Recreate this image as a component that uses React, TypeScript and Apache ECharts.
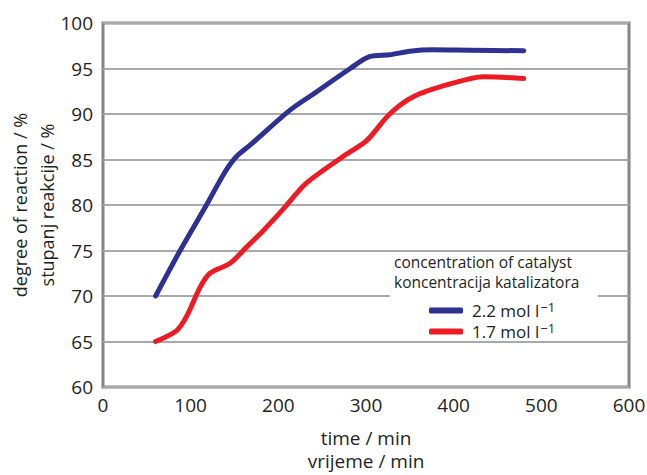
import React, { useEffect, useRef } from "react";
import * as echarts from "echarts";

const xTicks = [0, 100, 200, 300, 400, 500, 600];
const yTicks = [60, 65, 70, 75, 80, 85, 90, 95, 100];

const blueTime = [60, 88, 118, 139, 152, 168, 213, 240, 282, 304, 327, 350, 376, 420, 480];
const blueValue = [70, 75, 80, 83.6, 85.3, 86.6, 90.4, 92.2, 95.0, 96.3, 96.5, 96.9, 97.05, 97.0, 96.95];

const redTime = [60, 84, 95, 111, 122, 145, 164, 183, 206, 232, 278, 301, 327, 354, 396, 434, 480];
const redValue = [65, 66.2, 67.7, 71.0, 72.5, 73.6, 75.4, 77.2, 79.6, 82.4, 85.6, 87.1, 90.0, 91.9, 93.3, 94.1, 93.9];

const seriesNames = ["2.2 mol l", "1.7 mol l"];
const legendTitle = ["concentration of catalyst", "koncentracija katalizatora"];
const yTitle = "degree of reaction / %\nstupanj reakcije / %";
const xTitle = "time / min\nvrijeme / min";

const FONT = "Open Sans";

export default function App() {
  const ref = useRef<HTMLDivElement>(null);
  useEffect(() => {
    if (!ref.current) return;
    const chart = echarts.init(ref.current, null, { renderer: "svg" });
    const toPairs = (xs: number[], ys: number[]) => xs.map((x, i) => [x, ys[i]]);
    chart.setOption({
      animation: false,
      textStyle: { fontFamily: FONT },
      grid: {
        left: 103,
        right: 18,
        top: 23,
        bottom: 88,
        show: true,
        borderColor: "#858585",
        borderWidth: 3,
        backgroundColor: "transparent",
        outerBoundsMode: "none",
        containLabel: false,
      },
      xAxis: {
        type: "value",
        min: xTicks[0],
        max: xTicks[xTicks.length - 1],
        interval: 100,
        axisLine: { show: false },
        axisTick: { show: false },
        splitLine: { show: false },
        axisLabel: { fontSize: 19, color: "#231f20", margin: 8, fontFamily: FONT },
        name: xTitle,
        nameLocation: "middle",
        nameGap: 39,
        nameTextStyle: { fontSize: 19, color: "#231f20", lineHeight: 23.5, fontFamily: FONT },
      },
      yAxis: {
        type: "value",
        min: yTicks[0],
        max: yTicks[yTicks.length - 1],
        interval: 5,
        axisLine: { show: false },
        axisTick: { show: false },
        splitLine: { show: true, lineStyle: { color: "#a7a9ac", width: 2 } },
        axisLabel: { fontSize: 19, color: "#231f20", margin: 10, fontFamily: FONT },
      },
      legend: {
        show: true,
        orient: "vertical",
        left: 424,
        top: 295,
        itemWidth: 34,
        itemHeight: 6,
        itemGap: 2,
        icon: "roundRect",
        z: 8,
        data: seriesNames,
        formatter: (name: string) => `{a|${name}}{s|−1}`,
        textStyle: {
          color: "#231f20",
          fontFamily: FONT,
          fontSize: 17,
          padding: [0, 0, 0, 4],
          rich: {
            a: { fontSize: 17, color: "#231f20", fontFamily: FONT },
            s: { fontSize: 13, color: "#231f20", fontFamily: FONT, verticalAlign: "top", padding: [0, 0, 8, 1] },
          },
        },
      },
      graphic: [
        { type: "rect", z: 5, shape: { x: 390, y: 256, width: 208, height: 82 }, style: { fill: "#ffffff" } },
        { type: "text", z: 9, x: 394, y: 254, style: { text: legendTitle[0], fontSize: 15.5, fontFamily: FONT, fill: "#231f20" } },
        { type: "text", z: 9, x: 394, y: 274, style: { text: legendTitle[1], fontSize: 15.5, fontFamily: FONT, fill: "#231f20" } },
        {
          type: "text",
          z: 9,
          x: 33,
          y: 205,
          rotation: Math.PI / 2,
          style: {
            text: yTitle,
            fontSize: 18,
            lineHeight: 27,
            fontFamily: FONT,
            fill: "#231f20",
            align: "center",
            verticalAlign: "middle",
          },
        },
      ],
      series: [
        {
          name: seriesNames[0],
          type: "line",
          data: toPairs(blueTime, blueValue),
          smooth: 0.3,
          showSymbol: false,
          symbol: "none",
          z: 3,
          lineStyle: { color: "#2e3192", width: 5, cap: "round", join: "round" },
          itemStyle: { color: "#2e3192" },
        },
        {
          name: seriesNames[1],
          type: "line",
          data: toPairs(redTime, redValue),
          smooth: 0.3,
          showSymbol: false,
          symbol: "none",
          z: 3,
          lineStyle: { color: "#ed1c24", width: 5, cap: "round", join: "round" },
          itemStyle: { color: "#ed1c24" },
        },
      ],
    });
    return () => chart.dispose();
  }, []);
  return <div ref={ref} style={{ width: 647, height: 475, position: "absolute", left: 0, top: 0 }} />;
}
